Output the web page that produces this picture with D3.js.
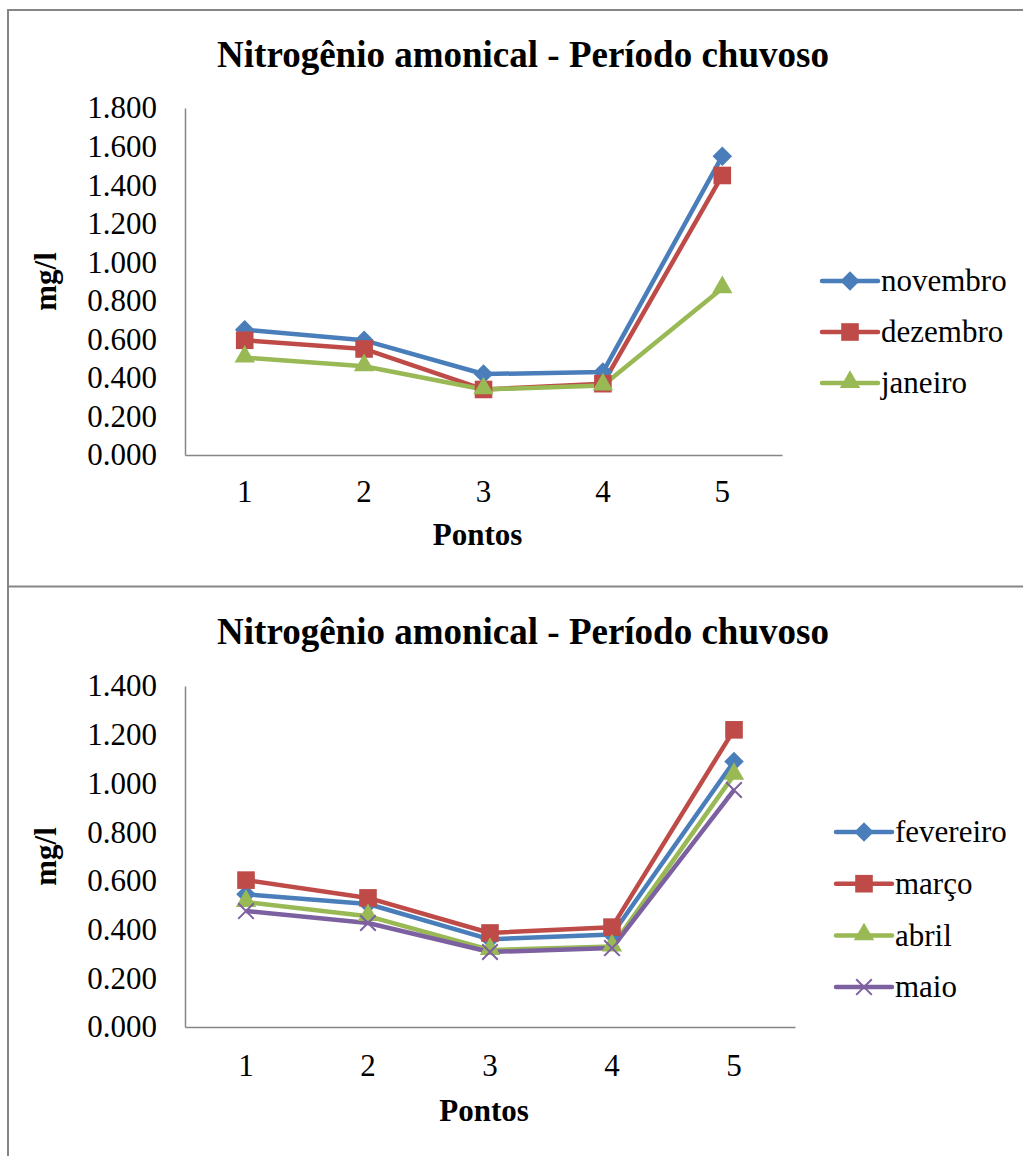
<!DOCTYPE html>
<html>
<head>
<meta charset="utf-8">
<title>Nitrogênio amonical - Período chuvoso</title>
<style>
  body { margin: 0; background: #fff; }
  text { font-family: "Liberation Serif", "Times New Roman", serif; fill: #000; }
</style>
<script src="https://d3js.org/d3.v7.min.js"></script>
</head>
<body>
<svg id="chart" width="1023" height="1156"></svg>
<script>
const TITLE = "Nitrogênio amonical - Período chuvoso";
const pontos = ["1", "2", "3", "4", "5"];

// chart 1
const meses1 = ["novembro", "dezembro", "janeiro"];
const novembro = [0.650, 0.595, 0.420, 0.430, 1.550];
const dezembro = [0.595, 0.550, 0.340, 0.370, 1.450];
const janeiro  = [0.505, 0.460, 0.340, 0.360, 0.865];
const ticks1 = [0, 0.2, 0.4, 0.6, 0.8, 1.0, 1.2, 1.4, 1.6, 1.8];

// chart 2
const meses2 = ["fevereiro", "março", "abril", "maio"];
const fevereiro = [0.545, 0.505, 0.360, 0.380, 1.090];
const marco     = [0.603, 0.530, 0.386, 0.410, 1.220];
const abril     = [0.513, 0.455, 0.316, 0.330, 1.035];
const maio      = [0.476, 0.427, 0.308, 0.324, 0.973];
const ticks2 = [0, 0.2, 0.4, 0.6, 0.8, 1.0, 1.2, 1.4];

const BLUE = "#4a7ebb", RED = "#be4b48", GREEN = "#98b954", PURPLE = "#7d60a0";
const GRID = "#868686";

const svg = d3.select("#chart");
const fmt = d3.format(".3f");

// outer frames
svg.append("path")
   .attr("d", "M8,1156 L8,10 L1023,10 M8,586.5 L1023,586.5")
   .attr("fill", "none")
   .attr("stroke", GRID)
   .attr("stroke-width", 2);

function marker(g, kind, color) {
    if (kind === "diamond") {
        g.append("path").attr("d", d3.symbol(d3.symbolSquare, 190)())
         .attr("transform", "rotate(45)").attr("fill", color);
    } else if (kind === "square") {
        g.append("path").attr("d", d3.symbol(d3.symbolSquare, 310)()).attr("fill", color);
    } else if (kind === "triangle") {
        g.append("path").attr("d", d3.symbol(d3.symbolTriangle, 180)())
         .attr("transform", "translate(0,-1)").attr("fill", color);
    } else {
        g.append("path").attr("d", d3.symbol(d3.symbolX, 160)())
         .attr("fill", "none").attr("stroke", color).attr("stroke-width", 2);
    }
}

function drawChart(o) {
    const x = d3.scaleBand().domain(pontos).range([o.left, o.right]);
    const y = d3.scaleLinear().domain([0, d3.max(o.ticks)]).range([o.bottom, o.top]);
    const g = svg.append("g");

    g.append("text")
     .attr("x", o.titleX).attr("y", o.titleY)
     .attr("text-anchor", "middle")
     .style("font-size", "37px").style("font-weight", "bold")
     .text(TITLE);

    const yAxis = d3.axisLeft(y).tickValues(o.ticks).tickSize(0).tickPadding(28).tickFormat(fmt);
    const ya = g.append("g").attr("transform", `translate(${o.left},0)`).call(yAxis);
    const xAxis = d3.axisBottom(x).tickSize(0).tickPadding(o.xPad);
    const xa = g.append("g").attr("transform", `translate(0,${o.bottom})`).call(xAxis);
    [ya, xa].forEach(a => {
        a.select(".domain").attr("stroke", GRID).attr("stroke-width", 1.5);
        a.selectAll("text").style("font-family", "Liberation Serif").style("font-size", "31px").attr("fill", "#000");
    });

    g.append("text")
     .attr("transform", `translate(${o.ylabX},${(o.top + o.bottom) / 2}) rotate(-90)`)
     .attr("text-anchor", "middle").attr("dy", "0.35em")
     .style("font-size", "31px").style("font-weight", "bold")
     .text("mg/l");
    g.append("text")
     .attr("x", (o.left + o.right) / 2 - 6).attr("y", o.xlabY)
     .attr("text-anchor", "middle")
     .style("font-size", "31px").style("font-weight", "bold")
     .text("Pontos");

    const line = d3.line()
                   .x((d, i) => x(pontos[i]) + x.bandwidth() / 2)
                   .y(d => y(d));

    o.series.forEach(s => {
        g.append("path").datum(s.values)
         .attr("fill", "none").attr("stroke", s.color)
         .attr("stroke-width", 4.5).attr("stroke-linejoin", "round")
         .attr("d", line);
    });
    o.series.forEach(s => {
        s.values.forEach((v, i) => {
            const m = g.append("g")
                       .attr("transform", `translate(${x(pontos[i]) + x.bandwidth() / 2},${y(v)})`);
            marker(m, s.marker, s.color);
        });
    });

    // legend
    o.series.forEach((s, i) => {
        const ly = o.legY + i * o.legStep;
        const lg = g.append("g").attr("transform", `translate(${o.legX},${ly})`);
        lg.append("line").attr("x1", 0).attr("x2", 56).attr("y1", 0).attr("y2", 0)
          .attr("stroke", s.color).attr("stroke-width", 4.5).attr("stroke-linecap", "round");
        const m = lg.append("g").attr("transform", "translate(28,0)");
        marker(m, s.marker, s.color);
        lg.append("text").attr("x", 59).attr("dy", "0.33em")
          .style("font-size", "31px").text(s.name);
    });
}

drawChart({
    left: 185, right: 782, top: 108, bottom: 455, ticks: ticks1,
    titleX: 523, titleY: 67, ylabX: 45, xlabY: 545, xPad: 25,
    legX: 822, legY: 281, legStep: 51,
    series: [
        { name: meses1[0], values: novembro, color: BLUE, marker: "diamond" },
        { name: meses1[1], values: dezembro, color: RED, marker: "square" },
        { name: meses1[2], values: janeiro, color: GREEN, marker: "triangle" }
    ]
});

drawChart({
    left: 185, right: 795, top: 686, bottom: 1027, ticks: ticks2,
    titleX: 523, titleY: 644, ylabX: 45, xlabY: 1121, xPad: 27,
    legX: 836, legY: 832, legStep: 51.7,
    series: [
        { name: meses2[0], values: fevereiro, color: BLUE, marker: "diamond" },
        { name: meses2[1], values: marco, color: RED, marker: "square" },
        { name: meses2[2], values: abril, color: GREEN, marker: "triangle" },
        { name: meses2[3], values: maio, color: PURPLE, marker: "x" }
    ]
});
</script>
</body>
</html>
